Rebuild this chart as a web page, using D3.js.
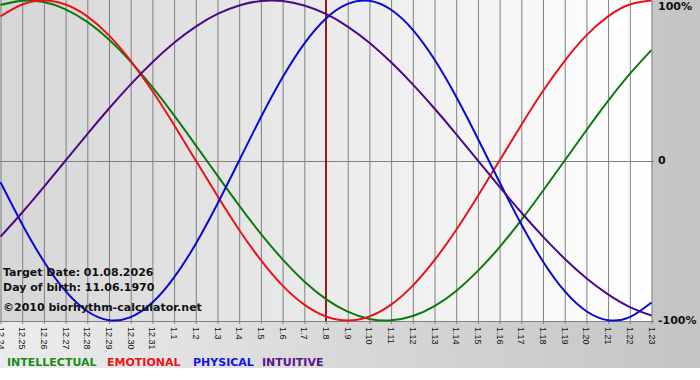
<!DOCTYPE html>
<html><head><meta charset="utf-8">
<script src="https://cdn.jsdelivr.net/npm/d3@7"></script>
<style>html,body{margin:0;padding:0;background:#fff;}svg{display:block;}</style>
</head><body>
<svg id="chart" width="700" height="380"></svg>
<script>
const days = ["12.24","12.25","12.26","12.27","12.28","12.29","12.30","12.31","1.1","1.2","1.3","1.4","1.5","1.6","1.7","1.8","1.9","1.10","1.11","1.12","1.13","1.14","1.15","1.16","1.17","1.18","1.19","1.20","1.21","1.22","1.23"];
const intellectual = [0.972,0.999,0.990,0.945,0.866,0.756,0.618,0.458,0.282,0.095,-0.095,-0.282,-0.458,-0.618,-0.756,-0.866,-0.945,-0.990,-0.999,-0.972,-0.910,-0.815,-0.690,-0.541,-0.372,-0.189,0,0.189,0.372,0.541,0.690];
const emotional = [0.901,0.975,1,0.975,0.901,0.782,0.623,0.434,0.222,0,-0.222,-0.434,-0.623,-0.782,-0.901,-0.975,-1,-0.975,-0.901,-0.782,-0.623,-0.434,-0.222,0,0.222,0.434,0.623,0.782,0.901,0.975,1];
const physical = [-0.136,-0.398,-0.631,-0.817,-0.942,-0.998,-0.979,-0.888,-0.731,-0.520,-0.270,0,0.270,0.520,0.731,0.888,0.979,0.998,0.942,0.817,0.631,0.398,0.136,-0.136,-0.398,-0.631,-0.817,-0.942,-0.998,-0.979,-0.888];
const intuitive = [-0.476,-0.325,-0.165,0,0.165,0.325,0.476,0.614,0.736,0.837,0.916,0.969,0.997,0.997,0.969,0.916,0.837,0.736,0.614,0.476,0.325,0.165,0,-0.165,-0.325,-0.476,-0.614,-0.736,-0.837,-0.916,-0.969];
const yTicks = [1, 0, -1];
const yTickLabels = ["100%", "0", "-100%"];
const targetDay = "1.8";
const infoLines = ["Target Date: 01.08.2026", "Day of birth: 11.06.1970", "\u00a92010 biorhythm-calculator.net"];
const legendNames = ["INTELLECTUAL", "EMOTIONAL", "PHYSICAL", "INTUITIVE"];

const series = [
  {name: "INTELLECTUAL", values: intellectual, color: "#0d7a0d"},
  {name: "EMOTIONAL", values: emotional, color: "#e8141c"},
  {name: "PHYSICAL", values: physical, color: "#0a0ad0"},
  {name: "INTUITIVE", values: intuitive, color: "#4c0a86"}
];
const legendColors = ["#1a8a1a", "#e8141c", "#1414e0", "#5a148e"];
const legendX = [7, 107, 193, 262];

const W = 700, H = 368;
const plotW = 651, plotB = 321;
const svg = d3.select("#chart");
const defs = svg.append("defs");
const g1 = defs.append("linearGradient").attr("id","frameGrad").attr("x1","0").attr("x2","1").attr("y1","0").attr("y2","0");
g1.append("stop").attr("offset","0").attr("stop-color","#ececec");
g1.append("stop").attr("offset","1").attr("stop-color","#c4c4c4");
const g2 = defs.append("linearGradient").attr("id","plotGrad").attr("x1","0").attr("x2","1").attr("y1","0").attr("y2","0");
g2.append("stop").attr("offset","0").attr("stop-color","#d6d6d6");
g2.append("stop").attr("offset","1").attr("stop-color","#ffffff");

svg.append("rect").attr("x",0).attr("y",0).attr("width",W).attr("height",H).attr("fill","url(#frameGrad)");
svg.append("rect").attr("x",0).attr("y",0).attr("width",plotW+0.5).attr("height",plotB).attr("fill","url(#plotGrad)");

const x = d3.scalePoint().domain(days).range([0.5, plotW + 0.5]);
const y = d3.scaleLinear().domain([-1, 1]).range([plotB - 0.5, 0.5]);

// vertical grid + bottom ticks
const xAxis = d3.axisBottom(x).tickSize(plotB + 3).tickSizeOuter(0).tickFormat("");
const xg = svg.append("g").attr("transform","translate(0,0)").call(xAxis);
xg.select(".domain").remove();
xg.selectAll(".tick line").attr("stroke","#808080").attr("stroke-width",1);

// x labels rotated
svg.append("g").selectAll("text").data(days).join("text")
  .attr("transform", d => `translate(${x(d)},327) rotate(90)`)
  .attr("dominant-baseline","central")
  .attr("text-anchor","start")
  .attr("font-family","'Liberation Sans', Arial, sans-serif")
  .attr("font-size", 9)
  .attr("fill","#111")
  .text(d => d);

// horizontal lines
svg.append("g").selectAll("line").data(yTicks.filter(v => v !== 1)).join("line")
  .attr("x1",0).attr("x2",plotW + 3)
  .attr("y1", d => Math.round(y(d)) + 0.5).attr("y2", d => Math.round(y(d)) + 0.5)
  .attr("stroke","#808080").attr("stroke-width",1);

// y labels
svg.append("g").selectAll("text").data(yTicks).join("text")
  .attr("x", 658)
  .attr("y", d => y(d))
  .attr("dy", (d,i) => i === 0 ? "0.85em" : "0.35em")
  .attr("font-family","'DejaVu Sans', Verdana, sans-serif")
  .attr("font-weight","bold")
  .attr("font-size", 11)
  .attr("fill","#111")
  .text((d,i) => yTickLabels[i]);

// target line
svg.append("line")
  .attr("x1", x(targetDay)).attr("x2", x(targetDay))
  .attr("y1", 0).attr("y2", plotB)
  .attr("stroke","#8e1c1c").attr("stroke-width",2);

// curves
const line = d3.line().x((d,i) => x(days[i])).y(d => y(d)).curve(d3.curveNatural);
svg.append("g").attr("clip-path", null).selectAll("path").data(series).join("path")
  .attr("d", s => line(s.values))
  .attr("fill","none")
  .attr("stroke", s => s.color)
  .attr("stroke-width", 2);

// info text
svg.append("g").selectAll("text").data(infoLines).join("text")
  .attr("x", 3)
  .attr("y", (d,i) => [276, 291, 311][i])
  .attr("font-family","'DejaVu Sans', Verdana, sans-serif")
  .attr("font-weight","bold")
  .attr("font-size", 11)
  .attr("fill","#111")
  .text(d => d);

// legend
svg.append("g").selectAll("text").data(legendNames).join("text")
  .attr("x", (d,i) => legendX[i])
  .attr("y", 366)
  .attr("font-family","'DejaVu Sans', Verdana, sans-serif")
  .attr("font-weight","bold")
  .attr("font-size", 11)
  .attr("fill", (d,i) => legendColors[i])
  .text(d => d);
</script>
</body></html>
